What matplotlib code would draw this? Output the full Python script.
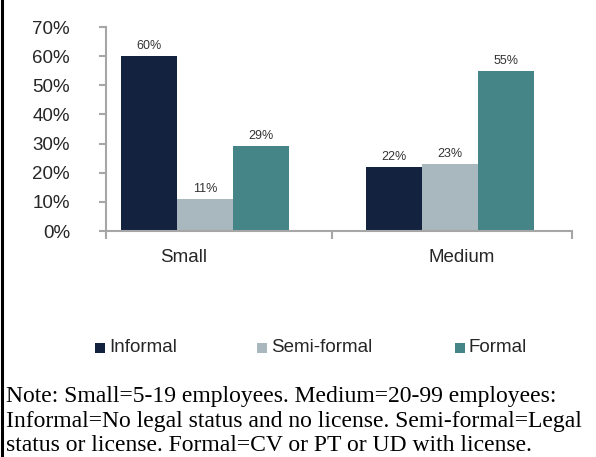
import matplotlib
matplotlib.use("Agg")
import matplotlib.pyplot as plt
from matplotlib.lines import Line2D
from matplotlib.patches import Rectangle
import numpy as np

# Data
categories = ["Small", "Medium"]
series = ["Informal", "Semi-formal", "Formal"]
informal = [60, 22]
semi_formal = [11, 23]
formal = [29, 55]
values = [informal, semi_formal, formal]
y_ticks = [0, 10, 20, 30, 40, 50, 60, 70]

colors = ["#12223F", "#A9B7BE", "#458487"]
axis_gray = "#A6A6A6"
text_dark = "#262626"

W, H = 596, 457
fig = plt.figure(figsize=(W / 100, H / 100), dpi=100)
fig.patch.set_facecolor("white")

def px(x, y):
    return x / W, 1 - y / H

# Plot area
left, bottom = 106 / W, 1 - 231 / H
right, top = 572 / W, 1 - 27 / H
ax = fig.add_axes([left, bottom, right - left, top - bottom])

x = np.arange(len(categories))
bw = 0.229
for i, (name, vals) in enumerate(zip(series, values)):
    pos = x + (i - 1) * bw
    bars = ax.bar(pos, vals, width=bw, color=colors[i], label=name, zorder=2)
    for b, v in zip(bars, vals):
        ax.annotate(f"{v}%", (b.get_x() + b.get_width() / 2, v),
                    xytext=(0, 3), textcoords="offset points",
                    ha="center", va="bottom", fontsize=9,
                    family="Liberation Sans", color="#333333")

ax.set_xlim(-0.404, 1.498)
ax.set_ylim(0, 70)

for s in ["top", "right"]:
    ax.spines[s].set_visible(False)
for s in ["left", "bottom"]:
    ax.spines[s].set_color(axis_gray)
    ax.spines[s].set_linewidth(1.5)

ax.set_yticks(y_ticks)
ax.set_yticklabels([f"{t}%" for t in y_ticks], family="Liberation Sans",
                   fontsize=13.5, color=text_dark)
ax.tick_params(axis="y", direction="out", length=5, width=1.5,
               color=axis_gray, pad=21)

# category boundary ticks on the x axis
ax.set_xticks([-0.404, 0.518, 1.498])
ax.set_xticklabels([])
ax.tick_params(axis="x", direction="out", length=6, width=1.5, color=axis_gray)

label_pos = [-0.086, 1.049]
for lx, name in zip(label_pos, categories):
    ax.annotate(name, (lx, 0), xycoords=("data", "axes fraction"),
                xytext=(0, -19), textcoords="offset points",
                ha="center", va="center", fontsize=13.5,
                family="Liberation Sans", color=text_dark,
                annotation_clip=False)

# Legend
legend_x = [95, 257, 455]
legend_y = 348
for lx, name, c in zip(legend_x, series, colors):
    x0, y0 = px(lx, legend_y + 5)
    fig.patches.append(Rectangle((x0, y0), 10 / W, 10 / H, transform=fig.transFigure,
                                 facecolor=c, edgecolor="none"))
    tx, ty = px(lx + 14, legend_y)
    fig.text(tx, ty, name, ha="left", va="center", fontsize=13.5,
             family="Liberation Sans", color=text_dark)

# Note
note_lines = [
    "Note: Small=5-19 employees. Medium=20-99 employees:",
    "Informal=No legal status and no license. Semi-formal=Legal",
    "status or license. Formal=CV or PT or UD with license.",
]
for i, line in enumerate(note_lines):
    tx, ty = px(6, 402 + i * 24.5)
    fig.text(tx, ty, line, ha="left", va="baseline", fontsize=17,
             family="Liberation Serif", color="black")

# Left frame line
fig.add_artist(Line2D([2 / W, 2 / W], [0, 1], transform=fig.transFigure,
                      color="black", linewidth=2.2))

fig.savefig("out.png", dpi=100)
